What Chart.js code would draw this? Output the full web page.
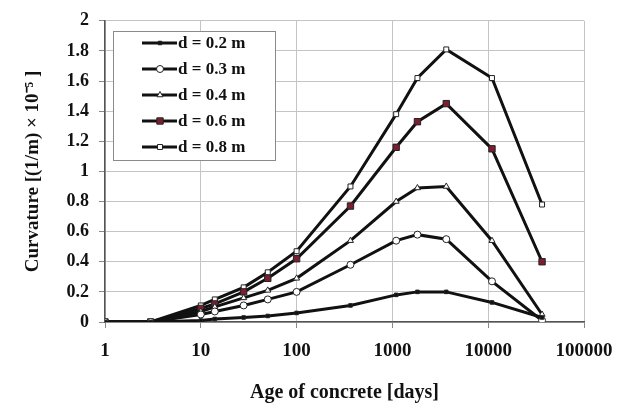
<!DOCTYPE html>
<html>
<head>
<meta charset="utf-8">
<script src="https://cdn.jsdelivr.net/npm/chart.js@4.4.1/dist/chart.umd.min.js"></script>
<style>
  html, body { margin: 0; padding: 0; background: #fff; }
  #wrap { width: 627px; height: 409px; position: relative; }
</style>
</head>
<body>
<div id="wrap"><canvas id="c" width="627" height="409"></canvas></div>
<script>
// Age of concrete in days
const ages = [1, 3, 10, 14, 28, 50, 100, 365, 1095, 1825, 3650, 10950, 36500];
// Curvature [(1/m) x 10^-5] per section depth
const curv02 = [0, 0, 0.01, 0.02, 0.03, 0.04, 0.06, 0.11, 0.18, 0.20, 0.20, 0.13, 0.03];
const curv03 = [0, 0, 0.05, 0.07, 0.11, 0.15, 0.20, 0.38, 0.54, 0.58, 0.55, 0.27, 0.01];
const curv04 = [0, 0, 0.07, 0.10, 0.16, 0.21, 0.29, 0.54, 0.80, 0.89, 0.90, 0.54, 0.05];
const curv06 = [0, 0, 0.09, 0.12, 0.20, 0.29, 0.42, 0.77, 1.16, 1.33, 1.45, 1.15, 0.40];
const curv08 = [0, 0, 0.11, 0.15, 0.23, 0.33, 0.47, 0.90, 1.38, 1.62, 1.81, 1.62, 0.78];
const seriesLabels = ['d = 0.2 m', 'd = 0.3 m', 'd = 0.4 m', 'd = 0.6 m', 'd = 0.8 m'];
const xTicks = [1, 10, 100, 1000, 10000, 100000];
const yTicks = [0, 0.2, 0.4, 0.6, 0.8, 1, 1.2, 1.4, 1.6, 1.8, 2];

const FONT = '"Liberation Serif", "Times New Roman", serif';
const pts = arr => ages.map((a, i) => ({ x: a, y: arr[i] }));

const styles = [
  { data: curv02, shape: 'rect',     fill: '#111111', r: 2.5 },
  { data: curv03, shape: 'circle',   fill: '#ffffff', r: 3.5 },
  { data: curv04, shape: 'triangle', fill: '#ffffff', r: 3.5 },
  { data: curv06, shape: 'rect',     fill: '#7b1e30', r: 4.5 },
  { data: curv08, shape: 'rect',     fill: '#ffffff', r: 3.5 }
];

const datasets = styles.map((s, i) => ({
  label: seriesLabels[i],
  data: pts(s.data),
  borderColor: '#111111',
  borderWidth: 3,
  pointStyle: s.shape,
  pointRadius: s.r,
  pointBackgroundColor: s.fill,
  pointBorderColor: '#222222',
  pointBorderWidth: 1,
  tension: 0
}));

// Legend box drawn inside the plot area, top-left
const insideLegend = {
  id: 'insideLegend',
  afterDraw(chart) {
    const ctx = chart.ctx;
    const x0 = 113, y0 = 31, w = 162, h = 129;
    ctx.save();
    ctx.fillStyle = '#ffffff';
    ctx.fillRect(x0, y0, w, h);
    ctx.strokeStyle = '#8a8a8a';
    ctx.lineWidth = 1;
    ctx.strokeRect(x0 + 0.5, y0 + 0.5, w, h);
    ctx.font = 'bold 17px ' + FONT;
    ctx.textBaseline = 'middle';
    ctx.textAlign = 'left';
    chart.data.datasets.forEach((ds, i) => {
      const cy = y0 + 12 + i * 26;
      ctx.strokeStyle = '#111111';
      ctx.lineWidth = 3;
      ctx.beginPath();
      ctx.moveTo(x0 + 29, cy);
      ctx.lineTo(x0 + 64, cy);
      ctx.stroke();
      ctx.fillStyle = ds.pointBackgroundColor;
      ctx.strokeStyle = '#222222';
      ctx.lineWidth = 1;
      Chart.helpers.drawPoint(ctx, {
        pointStyle: ds.pointStyle, radius: ds.pointRadius, rotation: 0, borderWidth: 1
      }, x0 + 47, cy);
      ctx.fillStyle = '#111111';
      ctx.fillText(ds.label, x0 + 65, cy + 1);
    });
    ctx.restore();
  }
};

new Chart(document.getElementById('c'), {
  type: 'line',
  data: { datasets },
  options: {
    responsive: false,
    animation: false,
    layout: { padding: { top: 20, right: 43, left: 18, bottom: 0 } },
    plugins: { legend: { display: false }, tooltip: { enabled: false } },
    scales: {
      x: {
        type: 'logarithmic',
        min: 1, max: 100000,
        afterBuildTicks: ax => { ax.ticks = xTicks.map(v => ({ value: v })); },
        afterFit: ax => { ax.height = 87; },
        grid: { color: '#c4c4c4', lineWidth: 1, tickLength: 6, tickColor: '#888' },
        border: { color: '#555', width: 1.5 },
        ticks: {
          color: '#111', font: { family: FONT, size: 19, weight: 'bold' },
          padding: 12, maxRotation: 0, autoSkip: false,
          callback: v => String(v)
        },
        title: {
          display: true, text: 'Age of concrete [days]', color: '#111',
          font: { family: FONT, size: 20, weight: 'bold' }, padding: { top: 10, bottom: 4 }
        }
      },
      y: {
        min: 0, max: 2,
        afterBuildTicks: ax => { ax.ticks = yTicks.map(v => ({ value: v })); },
        afterFit: ax => { ax.width = 87; },
        grid: { color: '#c4c4c4', lineWidth: 1, tickLength: 6, tickColor: '#888' },
        border: { color: '#555', width: 1.5 },
        ticks: {
          color: '#111', font: { family: FONT, size: 18, weight: 'bold' },
          padding: 10, callback: v => String(v)
        },
        title: {
          display: true, text: 'Curvature [(1/m) \u00d7 10\u207b\u2075 ]', color: '#111',
          font: { family: FONT, size: 19, weight: 'bold' }, padding: { bottom: 4 }
        }
      }
    }
  },
  plugins: [insideLegend]
});
</script>
</body>
</html>
